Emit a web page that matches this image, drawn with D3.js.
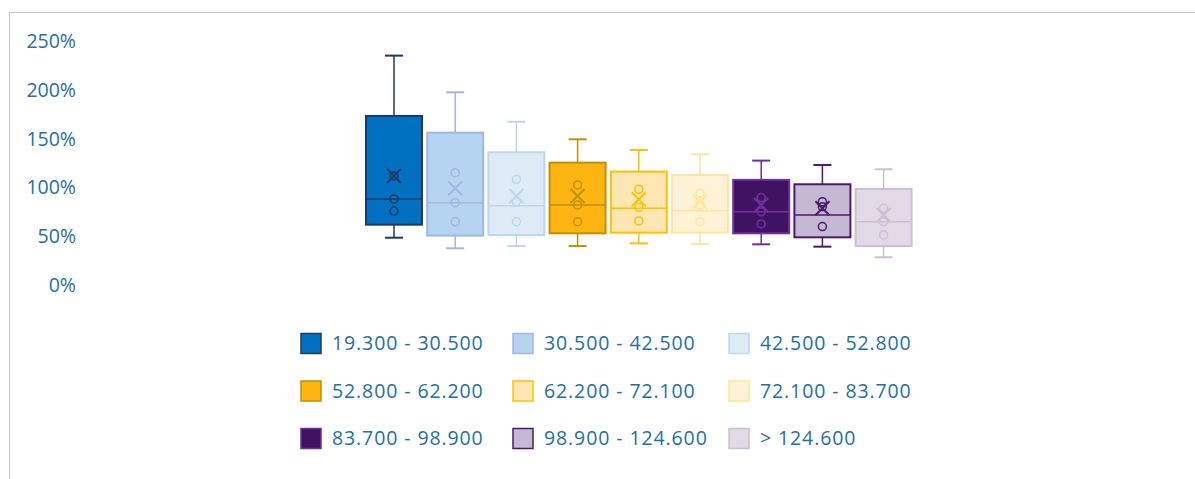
<!DOCTYPE html>
<meta charset="utf-8">
<title>Box plot by range</title>
<style>
    body {
        margin: 0;
        background: #fff;
        overflow: hidden;
    }

    svg {
        display: block;
    }

    text {
        font-family: "Open Sans", sans-serif;
        fill: #24709f;
    }
</style>

<body>
    <svg width="1195" height="479"></svg>

    <script src="https://d3js.org/d3.v7.min.js"></script>
    <script>
        // Series (ranges) and box statistics, in percent
        const series = ["19.300 - 30.500", "30.500 - 42.500", "42.500 - 52.800",
            "52.800 - 62.200", "62.200 - 72.100", "72.100 - 83.700",
            "83.700 - 98.900", "98.900 - 124.600", "> 124.600"];
        const whiskerLow = [48.6, 37.7, 40, 40, 42.8, 42, 41.8, 39.4, 28.5];
        const q1 = [62, 50.8, 51.4, 53.1, 53.8, 53.8, 53.1, 49, 40];
        const median = [88.4, 84.6, 81.5, 82.2, 78.8, 76.4, 75.3, 71.9, 65];
        const q3 = [173.7, 156.5, 136.4, 125.7, 116.5, 113, 108, 103.5, 98.7];
        const whiskerHigh = [235.7, 198, 167.8, 149.7, 138.7, 134.3, 127.8, 123.3, 118.9];
        const means = [112, 99.4, 91.5, 91.5, 88, 85.6, 82.2, 78.8, 71.9];
        const innerPoints = [
            [112, 88.4, 76],
            [115.4, 84.6, 65],
            [108.6, 85.6, 65],
            [102.8, 82.2, 65],
            [98.3, 79.8, 65.8],
            [94.2, 82, 65],
            [90, 75.3, 62.7],
            [85.6, 80.5, 60],
            [78.8, 65, 51.4]
        ];
        const yTicks = [0, 50, 100, 150, 200, 250];

        const fills = ["#0070c0", "#b4d4ef", "#ddebf7", "#ffb511", "#ffe6b3",
            "#fff2d6", "#3f1361", "#c5b8d3", "#e2d9e6"];
        const strokes = ["#1f3864", "#9db8e3", "#bdd7ee", "#bf9000", "#ffc000",
            "#ffe699", "#7030a0", "#4b1a6e", "#cdbfd6"];

        const svg = d3.select("svg");

        // chart frame
        svg.append("rect")
            .attr("x", 9.5).attr("y", 12.5)
            .attr("width", 1200).attr("height", 500)
            .attr("fill", "none")
            .attr("stroke", "#c8c8c8");

        const y = d3.scaleLinear().domain([0, 250]).range([285, 41.7]);
        const x = d3.scaleBand().domain(series)
            .range([363.4, 914.2])
            .paddingInner(0.085)
            .paddingOuter(0.0425);

        // y axis: labels only
        const yAxis = svg.append("g")
            .attr("transform", "translate(76,0)")
            .call(d3.axisLeft(y).tickValues(yTicks).tickFormat(d => d + "%").tickSize(0).tickPadding(0));
        yAxis.select(".domain").remove();
        yAxis.selectAll("text")
            .attr("font-family", "Open Sans, sans-serif")
            .attr("font-size", 19.5)
            .attr("fill", "#24709f");

        const data = series.map((s, i) => ({
            name: s, lo: whiskerLow[i], q1: q1[i], med: median[i], q3: q3[i],
            hi: whiskerHigh[i], mean: means[i], pts: innerPoints[i], i
        }));

        const boxes = svg.append("g").selectAll("g")
            .data(data)
            .join("g")
            .attr("transform", d => `translate(${x(d.name)},0)`);

        const bw = x.bandwidth();
        const cx = bw / 2;
        const cap = 9;

        // whiskers
        boxes.append("line")
            .attr("x1", cx).attr("x2", cx)
            .attr("y1", d => y(d.hi)).attr("y2", d => y(d.q3))
            .attr("stroke", d => strokes[d.i]).attr("stroke-width", 1.5);
        boxes.append("line")
            .attr("x1", cx).attr("x2", cx)
            .attr("y1", d => y(d.q1)).attr("y2", d => y(d.lo))
            .attr("stroke", d => strokes[d.i]).attr("stroke-width", 1.5);
        boxes.append("line")
            .attr("x1", cx - cap).attr("x2", cx + cap)
            .attr("y1", d => y(d.hi)).attr("y2", d => y(d.hi))
            .attr("stroke", d => strokes[d.i]).attr("stroke-width", 2);
        boxes.append("line")
            .attr("x1", cx - cap).attr("x2", cx + cap)
            .attr("y1", d => y(d.lo)).attr("y2", d => y(d.lo))
            .attr("stroke", d => strokes[d.i]).attr("stroke-width", 2);

        // box
        boxes.append("rect")
            .attr("x", 0).attr("width", bw)
            .attr("y", d => y(d.q3))
            .attr("height", d => y(d.q1) - y(d.q3))
            .attr("fill", d => fills[d.i])
            .attr("stroke", d => strokes[d.i])
            .attr("stroke-width", 2);

        // median
        boxes.append("line")
            .attr("x1", 0).attr("x2", bw)
            .attr("y1", d => y(d.med)).attr("y2", d => y(d.med))
            .attr("stroke", d => strokes[d.i]).attr("stroke-width", 1.5);

        // inner points
        boxes.selectAll("circle")
            .data(d => d.pts.map(v => ({ v, i: d.i })))
            .join("circle")
            .attr("cx", cx)
            .attr("cy", p => y(p.v))
            .attr("r", 4)
            .attr("fill", "none")
            .attr("stroke", p => strokes[p.i])
            .attr("stroke-width", 1.5);

        // mean marker
        const m = 7;
        boxes.append("path")
            .attr("d", d => {
                const my = y(d.mean);
                return `M${cx - m},${my - m}L${cx + m},${my + m}M${cx - m},${my + m}L${cx + m},${my - m}`;
            })
            .attr("stroke", d => strokes[d.i])
            .attr("stroke-width", 2)
            .attr("fill", "none");

        // legend
        const colX = [301, 513, 729];
        const rowY = [343.5, 391, 438.5];
        const legend = svg.append("g").selectAll("g")
            .data(data)
            .join("g")
            .attr("transform", d => `translate(${colX[d.i % 3]},${rowY[Math.floor(d.i / 3)]})`);

        legend.append("rect")
            .attr("x", 0).attr("y", -10)
            .attr("width", 20).attr("height", 20)
            .attr("fill", d => fills[d.i])
            .attr("stroke", d => strokes[d.i])
            .attr("stroke-width", 1.5);

        legend.append("text")
            .attr("x", 31).attr("y", 0)
            .attr("dy", "0.35em")
            .attr("font-size", 19.5)
            .attr("letter-spacing", 0.9)
            .text(d => d.name);
    </script>
</body>

</html>
